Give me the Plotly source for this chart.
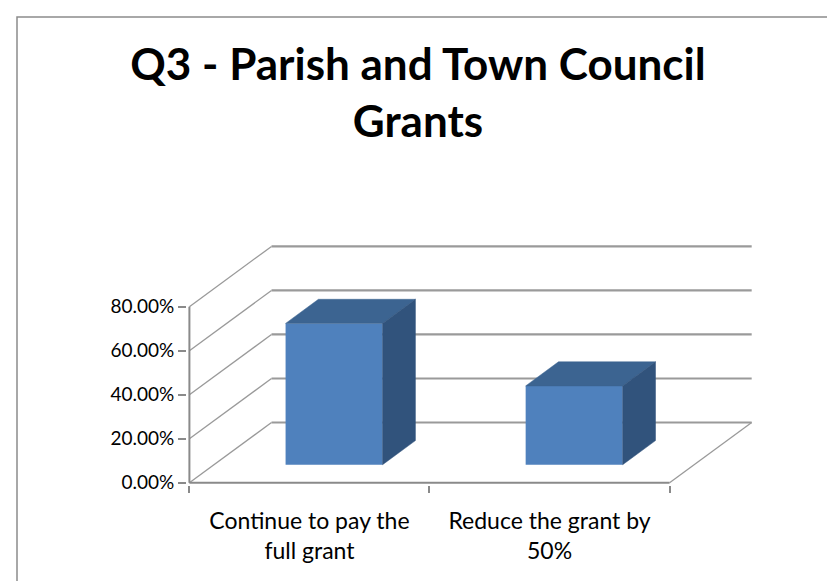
import plotly.graph_objects as go

# ---- data ----
categories = ["Continue to pay the<br>full grant", "Reduce the grant by<br>50%"]
values = [0.642, 0.358]
y_ticks = [0.0, 0.2, 0.4, 0.6, 0.8]
title_text = "Q3 - Parish and Town Council<br>Grants"

# ---- 3D oblique projection styling constants ----
DX = 0.342     # horizontal shift of full depth (category units)
DY = 0.274     # vertical shift of full depth (value units)
D0, D1 = 0.30, 0.70   # bar front / back depth fractions
BAR_W = 0.404
FRONT = "#4F81BD"
TOP = "#3C6491"
SIDE = "#31537C"
GRID = "#9A9A9A"
AXIS = "#8A8A8A"

xs = [i + 1 for i in range(len(categories))]
x_lo, x_hi = 0.5, len(categories) + 0.5
ymax = y_ticks[-1]

shapes = []
# back wall gridlines and side wall diagonals (drawn below the bars)
for v in y_ticks:
    shapes.append(dict(type="line", xref="x", yref="y", layer="below",
                       x0=x_lo + DX, x1=x_hi + DX, y0=v + DY, y1=v + DY,
                       line=dict(color=GRID, width=2.2)))
    shapes.append(dict(type="line", xref="x", yref="y", layer="below",
                       x0=x_lo, x1=x_lo + DX, y0=v, y1=v + DY,
                       line=dict(color=GRID, width=1.3)))
# floor right diagonal
shapes.append(dict(type="line", xref="x", yref="y", layer="below",
                   x0=x_hi, x1=x_hi + DX, y0=0, y1=DY, line=dict(color=GRID, width=1.3)))
# front axis lines
shapes.append(dict(type="line", xref="x", yref="y", layer="below",
                   x0=x_lo, x1=x_lo, y0=0, y1=ymax, line=dict(color=AXIS, width=2)))
shapes.append(dict(type="line", xref="x", yref="y", layer="below",
                   x0=x_lo, x1=x_hi, y0=0, y1=0, line=dict(color=AXIS, width=2)))
# outer chart frame
shapes.append(dict(type="rect", xref="paper", yref="paper", layer="below",
                   x0=-(187 - 17) / 569, x1=1 + (71 + 20) / 569,
                   y0=-(96 + 20) / 241, y1=1 + (244 - 17) / 241,
                   line=dict(color="#8C8C8C", width=1.5), fillcolor="rgba(0,0,0,0)"))

fig = go.Figure()

# bars: front faces
fig.add_trace(go.Bar(x=[x + D0 * DX for x in xs], y=values, base=D0 * DY, width=BAR_W,
                     marker=dict(color=FRONT, line=dict(width=0)), showlegend=False))
# top and side faces
depth_dx = (D1 - D0) * DX
depth_dy = (D1 - D0) * DY
for x, v in zip(xs, values):
    xl = x - BAR_W / 2 + D0 * DX
    xr = x + BAR_W / 2 + D0 * DX
    yb = D0 * DY
    yt = v + D0 * DY
    fig.add_trace(go.Scatter(x=[xl, xr, xr + depth_dx, xl + depth_dx, xl],
                             y=[yt, yt, yt + depth_dy, yt + depth_dy, yt],
                             fill="toself", fillcolor=TOP, mode="lines",
                             line=dict(color=TOP, width=0.5), hoverinfo="skip", showlegend=False))
    fig.add_trace(go.Scatter(x=[xr, xr + depth_dx, xr + depth_dx, xr, xr],
                             y=[yb, yb + depth_dy, yt + depth_dy, yt, yb],
                             fill="toself", fillcolor=SIDE, mode="lines",
                             line=dict(color=SIDE, width=0.5), hoverinfo="skip", showlegend=False))

fig.update_layout(
    width=827, height=581,
    margin=dict(l=187, r=71, t=244, b=96),
    paper_bgcolor="white", plot_bgcolor="white",
    title=dict(text="<b>" + title_text + "</b>", x=418 / 827, xanchor="center", xref="container",
               y=1 - 80 / 581, yanchor="top", yref="container",
               font=dict(family="Lato", size=44, color="black")),
    font=dict(family="Lato", color="black"),
    xaxis=dict(range=[0.49, 2.86], tickvals=xs, ticktext=categories, ticks="",
               showgrid=False, zeroline=False, showline=False, ticklabelstandoff=20,
               tickfont=dict(size=23),
               minor=dict(tickvals=[x_lo, 1.5, x_hi], ticks="outside", ticklen=7,
                          tickwidth=2, tickcolor=AXIS, showgrid=False)),
    yaxis=dict(range=[-0.01, 1.085], tickvals=y_ticks, tickformat=".2%", ticks="outside",
               ticklen=8, tickwidth=2, tickcolor=AXIS, showgrid=False, zeroline=False,
               showline=False, tickfont=dict(size=19)),
    shapes=shapes,
)

fig.write_html("out.html", config={"displayModeBar": False},
               post_script="document.body.style.margin='0';")
